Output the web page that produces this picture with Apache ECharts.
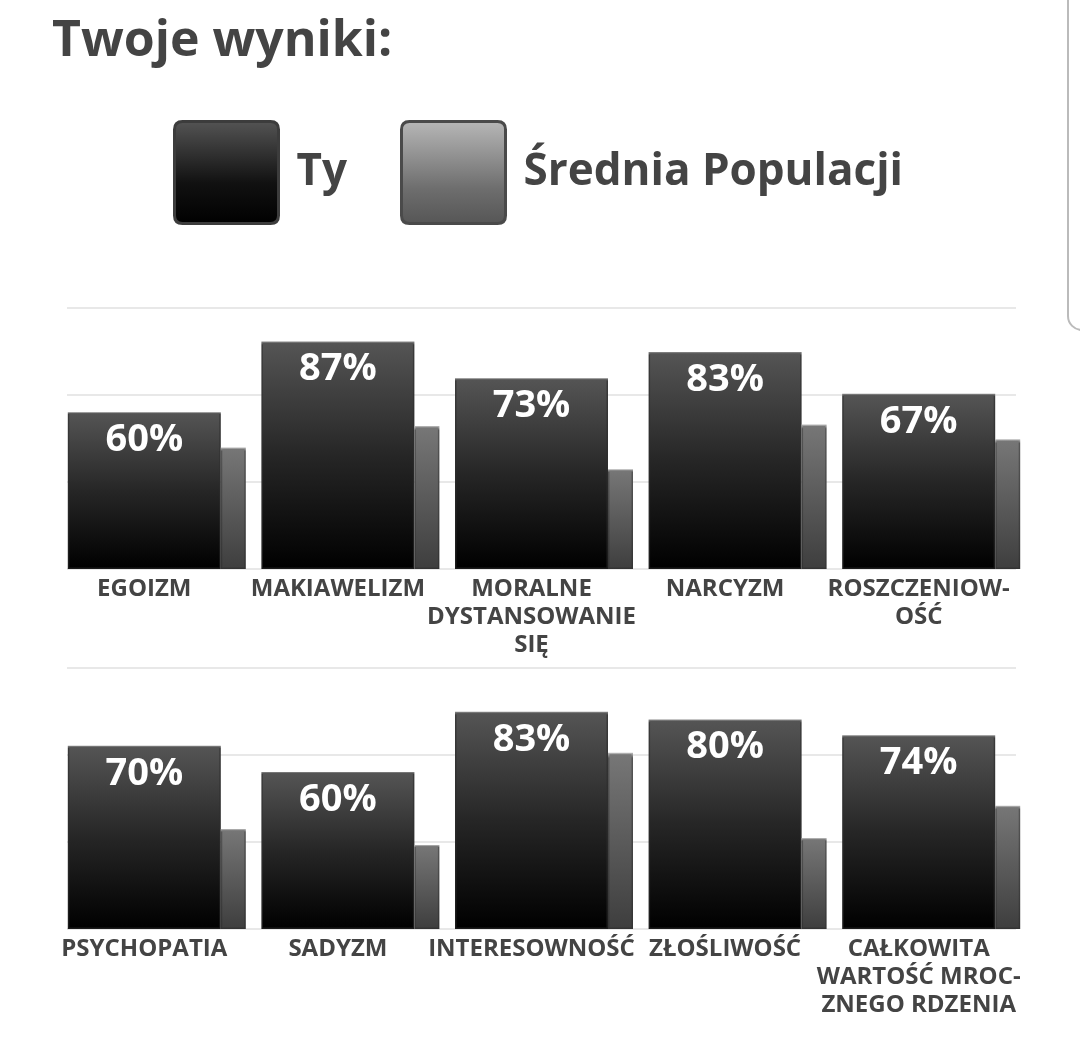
<!DOCTYPE html>
<html>
<head>
<meta charset="utf-8">
<script src="https://cdn.jsdelivr.net/npm/echarts@6/dist/echarts.min.js"></script>
<style>
  html, body { margin: 0; padding: 0; background: #fff; }
  #main { width: 1080px; height: 1045px; }
</style>
</head>
<body>
<div id="main"></div>
<script>
var myChart = echarts.init(document.getElementById('main'));

// dane
var cats_top = ['EGOIZM', 'MAKIAWELIZM', 'MORALNE\nDYSTANSOWANIE\nSIĘ', 'NARCYZM', 'ROSZCZENIOW-\nOŚĆ'];
var ty_top = [60, 87, 73, 83, 67];
var avg_top = [46.5, 54.7, 38.2, 55.3, 49.6];

var cats_bottom = ['PSYCHOPATIA', 'SADYZM', 'INTERESOWNOŚĆ', 'ZŁOŚLIWOŚĆ', 'CAŁKOWITA\nWARTOŚĆ MROC-\nZNEGO RDZENIA'];
var ty_bottom = [70, 60, 83, 80, 74];
var avg_bottom = [38.2, 32.1, 67.3, 34.7, 47.1];

var FONT = 'Open Sans';

function grad(stops) {
  return new echarts.graphic.LinearGradient(0, 0, 0, 1, stops);
}

var tyColor = grad([
  { offset: 0, color: '#555555' },
  { offset: 0.5, color: '#262626' },
  { offset: 1, color: '#000000' }
]);
var avgColor = grad([
  { offset: 0, color: '#777777' },
  { offset: 1, color: '#3e3e3e' }
]);
var tyBorder = grad([
  { offset: 0, color: '#8a8a8a' },
  { offset: 0.015, color: '#3a3a3a' },
  { offset: 1, color: '#1a1a1a' }
]);
var avgBorder = grad([
  { offset: 0, color: '#bbbbbb' },
  { offset: 0.03, color: '#555555' },
  { offset: 1, color: '#333333' }
]);

var iconPath = 'path://M8,0 H96 Q104,0 104,8 V94 Q104,102 96,102 H8 Q0,102 0,94 V8 Q0,0 8,0 Z';

var gridTop1 = 307.5, gridTop2 = 667.3, gridH = 261.6;

function catAxis(idx, data) {
  return {
    type: 'category',
    gridIndex: idx,
    data: data,
    axisLine: { show: false },
    axisTick: { show: false },
    axisLabel: {
      interval: 0,
      margin: 6,
      color: '#444',
      fontFamily: FONT,
      fontWeight: 'bold',
      fontSize: 24,
      lineHeight: 28,
      padding: [0, 25, 0, 0]
    }
  };
}

function valAxis(idx, lines) {
  return {
    type: 'value',
    gridIndex: idx,
    min: 0,
    max: 100,
    interval: 100 / 3,
    axisLine: { show: false },
    axisTick: { show: false },
    axisLabel: { show: false },
    splitLine: { show: lines, lineStyle: { color: '#e8e8e8', width: 2 } }
  };
}

function tySeries(axisIdx, data) {
  return {
    name: 'Ty',
    type: 'bar',
    xAxisIndex: axisIdx,
    yAxisIndex: axisIdx,
    data: data,
    barWidth: 153,
    barGap: '0%',
    itemStyle: { color: tyColor, borderColor: tyBorder, borderWidth: 1.5 },
    label: {
      show: true,
      position: 'insideTop',
      distance: 9,
      formatter: '{c}%',
      color: '#ffffff',
      fontFamily: FONT,
      fontWeight: 'bold',
      fontSize: 38
    },
    silent: true
  };
}

function avgSeries(axisIdx, data) {
  return {
    name: 'Średnia Populacji',
    type: 'bar',
    xAxisIndex: axisIdx,
    yAxisIndex: axisIdx,
    data: data,
    barWidth: 25,
    barGap: '0%',
    itemStyle: { color: avgColor, borderColor: avgBorder, borderWidth: 1.5 },
    silent: true
  };
}

var legendText = {
  color: '#444',
  fontFamily: FONT,
  fontWeight: 'bold',
  fontSize: 44,
  padding: [0, 0, 0, 13]
};

var option = {
  backgroundColor: '#ffffff',
  animation: false,
  title: {
    text: 'Twoje wyniki:',
    left: 52,
    top: 17,
    padding: 0,
    textStyle: { color: '#444', fontFamily: FONT, fontWeight: 'bold', fontSize: 50 }
  },
  legend: [
    {
      left: 173, top: 120, padding: 0,
      selectedMode: false,
      itemWidth: 104, itemHeight: 102,
      icon: iconPath,
      itemStyle: { borderColor: '#3c3c3c', borderWidth: 3 },
      textStyle: legendText,
      data: [{
        name: 'Ty',
        itemStyle: {
          color: grad([
            { offset: 0, color: '#555555' },
            { offset: 0.6, color: '#111111' },
            { offset: 1, color: '#000000' }
          ])
        }
      }]
    },
    {
      left: 400, top: 120, padding: 0,
      selectedMode: false,
      itemWidth: 104, itemHeight: 102,
      icon: iconPath,
      itemStyle: { borderColor: '#4a4a4a', borderWidth: 3 },
      textStyle: legendText,
      data: [{
        name: 'Średnia Populacji',
        itemStyle: {
          color: grad([
            { offset: 0, color: '#b8b8b8' },
            { offset: 0.65, color: '#6e6e6e' },
            { offset: 1, color: '#555555' }
          ])
        }
      }]
    }
  ],
  grid: [
    { left: 60, width: 968, top: gridTop1, height: gridH },
    { left: 60, width: 968, top: gridTop2, height: gridH },
    // siatka (linie pomocnicze)
    { left: 67, width: 949, top: gridTop1, height: gridH },
    { left: 67, width: 949, top: gridTop2, height: gridH }
  ],
  xAxis: [
    catAxis(0, cats_top),
    catAxis(1, cats_bottom),
    { type: 'category', gridIndex: 2, data: cats_top, show: false },
    { type: 'category', gridIndex: 3, data: cats_bottom, show: false }
  ],
  yAxis: [
    valAxis(0, false),
    valAxis(1, false),
    valAxis(2, true),
    valAxis(3, true)
  ],
  graphic: [
    {
      type: 'rect',
      shape: { x: 1068, y: -20, width: 40, height: 350, r: 14 },
      style: { fill: '#ffffff', stroke: '#bbbbbb', lineWidth: 2 },
      silent: true
    }
  ],
  series: [
    tySeries(0, ty_top),
    avgSeries(0, avg_top),
    tySeries(1, ty_bottom),
    avgSeries(1, avg_bottom)
  ]
};

myChart.setOption(option);
</script>
</body>
</html>
